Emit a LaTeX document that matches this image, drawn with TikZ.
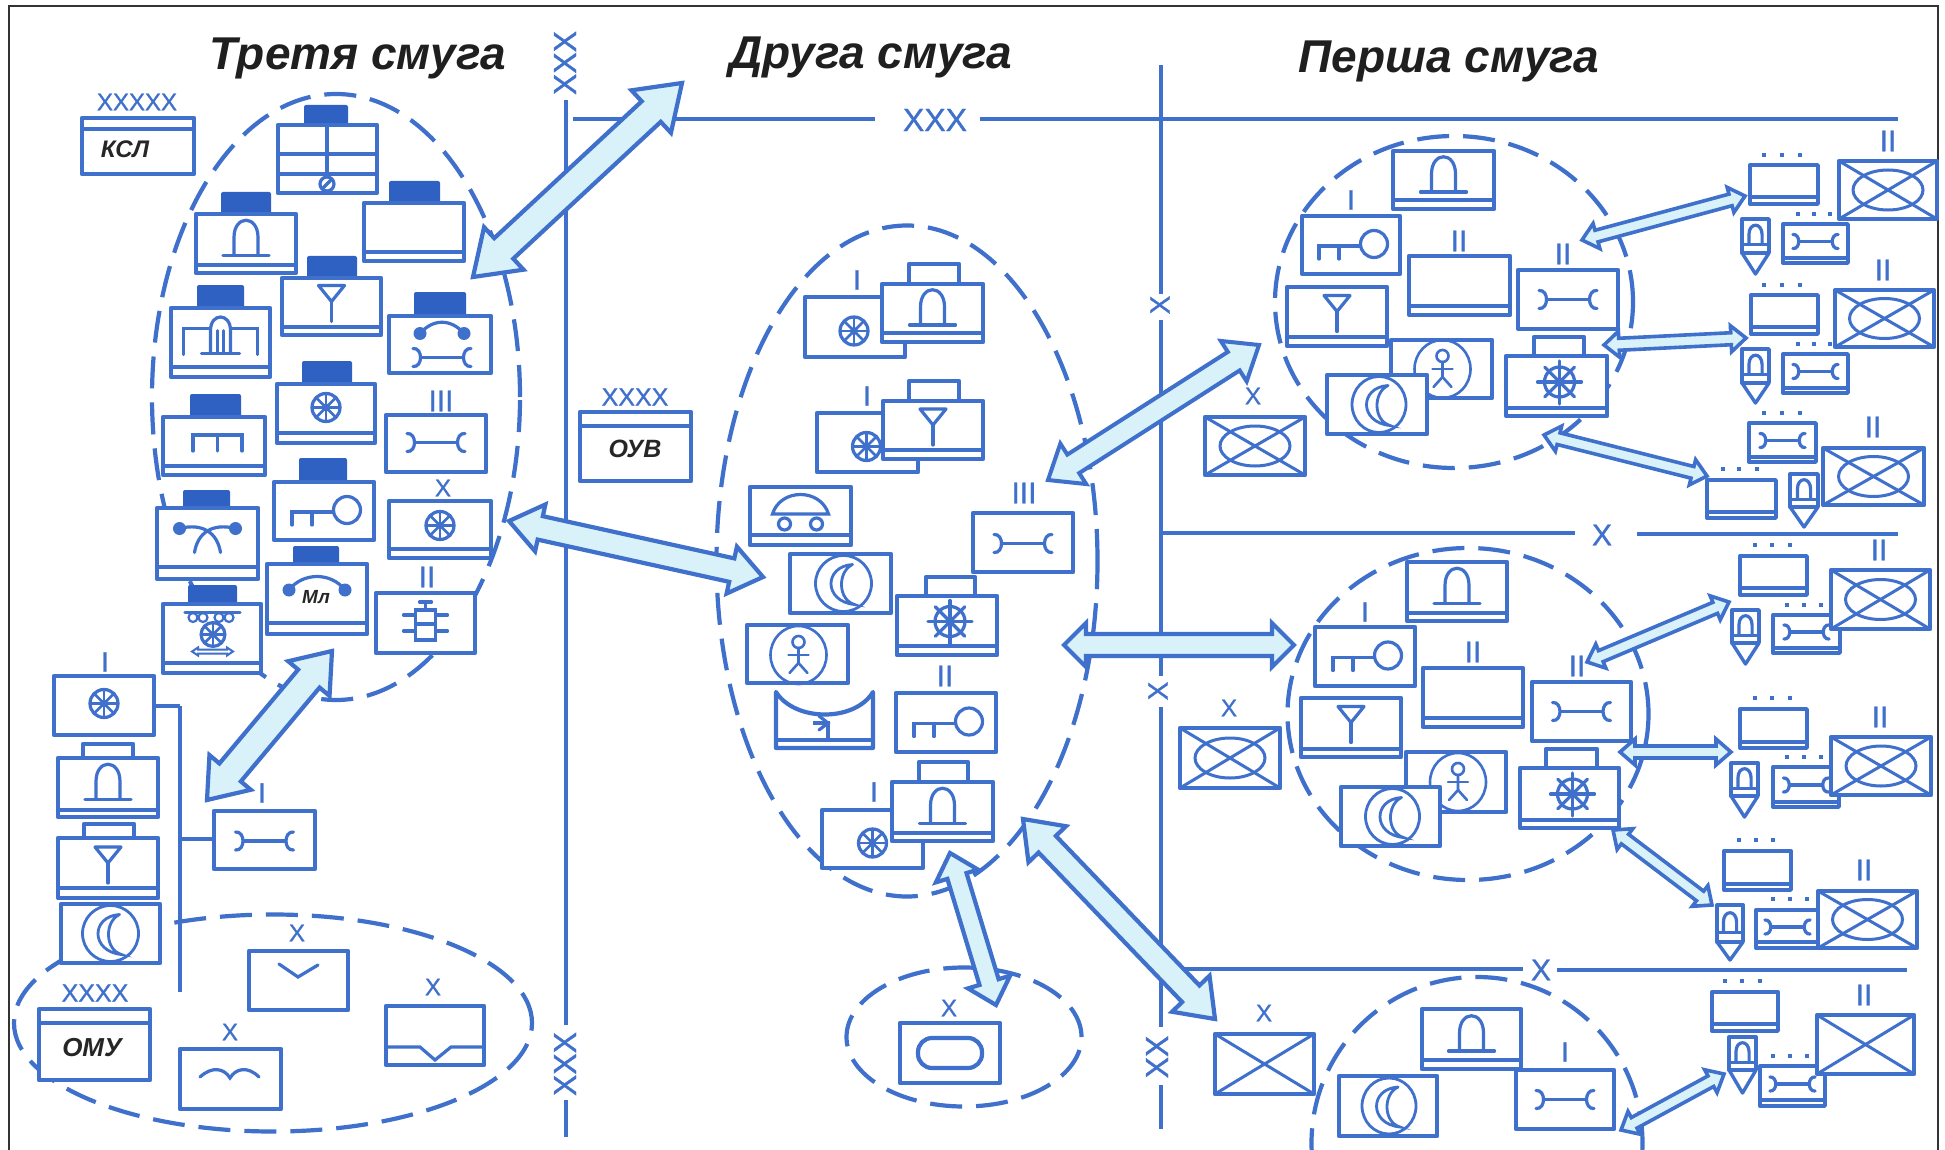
\documentclass[tikz,border=0pt]{standalone}
\usepackage{fontspec}
\setmainfont{Liberation Sans}
\newfontfamily\labf[FakeBold=0.9]{Liberation Sans}
\usetikzlibrary{calc,shapes.geometric}
\definecolor{ublue}{HTML}{3E70CC}
\definecolor{hqblue}{HTML}{2F61C2}
\definecolor{afill}{HTML}{D9F1F9}
\tikzset{
 ul/.style={draw=ublue,line width=4.2pt,line join=round},
 us/.style={draw=ublue,line width=3.4pt,line join=round},
 sw/.style={draw=ublue,line width=3.2pt,line cap=round},
 unitn/.style={ul,fill=white,inner sep=0pt,outer sep=0pt,rectangle},
 unitsm/.style={us,fill=white,inner sep=0pt,outer sep=0pt,rectangle},
 dashell/.style={ellipse,draw=ublue,line width=4.2pt,dash pattern=on 32pt off 14pt,inner sep=0pt,outer sep=0pt},
 arrowst/.style={draw=ublue,fill=afill,line join=miter},
 bus/.style={draw=ublue,line width=4.4pt},
 thinbus/.style={draw=ublue,line width=3.2pt}
}
\newcounter{labc}
\newcommand\lab[4]{\stepcounter{labc}\node[text=ublue,inner sep=0pt,font=\labf\fontsize{#3}{#3}\selectfont] (lab\arabic{labc}) at (#1,#2) {#4};}
\newcommand\labr[4]{\stepcounter{labc}\node[text=ublue,inner sep=0pt,rotate=90,font=\labf\fontsize{#3}{#3}\selectfont] (lab\arabic{labc}) at (#1,#2) {#4};}
\newcommand\ubox[5]{\node[unitn,minimum width={(#4-#2)*1pt},minimum height={(#5-#3)*1pt}] (#1) at ({(#2+#4)/2},{(#3+#5)/2}) {};}
\newcommand\usmall[5]{\node[unitsm,minimum width={(#4-#2)*1pt},minimum height={(#5-#3)*1pt}] (#1) at ({(#2+#4)/2},{(#3+#5)/2}) {};}
\newcommand\ubarr[2]{\draw[ul,line width=3.2pt] (#1.west |- 0,#2) -- (#1.east |- 0,#2);}
\newcommand\hqS[4]{\fill[hqblue,rounded corners=2pt] (#1,#2) rectangle (#3,#4);}
\newcommand\hqO[4]{\draw[ul,fill=white] (#1,#2) rectangle (#3,#4);}
\newcommand\Usym[5]{\begin{scope}[shift={($(#1.center)+(#2,#3)$)},scale=#4]#5\end{scope}}
\newcommand\tridots[4]{\foreach \q in {#1,#2,#3} \fill[ublue] (\q-2.4,#4-2.4) rectangle (\q+2.4,#4+2.4);}
% symbols
\newcommand\zzBell{\draw[sw] (-12,12) -- (-12,-6) .. controls (-12,-29) and (12,-29) .. (12,-6) -- (12,12);\draw[sw] (-23,12) -- (23,12);}
\newcommand\zzAnt{\draw[sw,line join=round] (-13,-21) -- (13,-21) -- (0,-5) -- cycle;\draw[sw] (0,-5) -- (0,15);}
\newcommand\zzWheel{\draw[sw] (0,0) circle[radius=14];\foreach \a in {0,45,...,315} \draw[sw,line width=2.6pt] (0,0) -- (\a:14);\fill[ublue] (0,0) circle[radius=4];}
\newcommand\zzWrench{\draw[sw] (-29,-9) .. controls (-19,-10) and (-19,10) .. (-29,9);\draw[sw] (29,-9) .. controls (19,-10) and (19,10) .. (29,9);\draw[sw] (-21,0) -- (21,0);}
\newcommand\zzKey{\draw[sw] (23,-1) circle[radius=13.5];\draw[sw] (9.5,1) -- (-32,1) -- (-32,14);\draw[sw] (-12,1) -- (-12,14);}
\newcommand\zzComb{\draw[sw] (-21,5) -- (-21,-11) -- (28,-11) -- (28,5);\draw[sw] (3.5,-11) -- (3.5,5);}
\newcommand\zzBuilding{\draw[sw] (-37,12) -- (-37,-14) -- (-11,-14);\draw[sw] (37,12) -- (37,-14) -- (11,-14);\draw[sw] (-10,11) -- (-10,-12) .. controls (-10,-30) and (10,-30) .. (10,-12) -- (10,11);\draw[sw,line width=2.6pt] (-3,-12) -- (-3,11);\draw[sw,line width=2.6pt] (3,-12) -- (3,11);\draw[sw] (-19,11) -- (19,11);}
\newcommand\zzCross{\fill[ublue] (-28,-15) circle[radius=6.5];\fill[ublue] (28,-15) circle[radius=6.5];\draw[sw] (-28,-15) .. controls (-4,-21) and (10,-10) .. (13,9);\draw[sw] (28,-15) .. controls (4,-21) and (-10,-10) .. (-13,9);}
\newcommand\zzCar{\draw[sw] (-28,-2) .. controls (-20,-28) and (20,-28) .. (28,-2) -- cycle;\draw[sw,fill=white] (-16,8) circle[radius=6];\draw[sw,fill=white] (16,8) circle[radius=6];}
\newcommand\zzMoon[1]{\draw[sw,line width=2.8pt] (0,0) ellipse[x radius=#1,y radius=28];\draw[sw,line width=2.8pt] (9,-19) .. controls (-20,-17) and (-20,18) .. (11,21) .. controls (-6,16) and (-6,-12) .. (9,-19);}
\newcommand\zzMan{\draw[sw,line width=2.6pt] (0,0) ellipse[x radius=28,y radius=29];\draw[sw,line width=2.6pt] (0,-13) circle[radius=6];\draw[sw,line width=2.6pt] (0,-7) -- (0,8) -- (-9,18);\draw[sw,line width=2.6pt] (0,8) -- (9,18);\draw[sw,line width=2.6pt] (-10,0) -- (10,0);}
\newcommand\zzHelm{\draw[sw] (0,0) circle[radius=15];\foreach \a in {0,180,90} \draw[sw] (0,0) -- (\a:22);\foreach \a in {-90} \draw[sw] (0,0) -- (\a:21);\foreach \a in {45,135,225,315} \draw[sw] (0,0) -- (\a:21);\fill[ublue] (0,0) circle[radius=4];}
\newcommand\zzOval{\draw[sw,line width=3pt] (0,0) ellipse[x radius=35,y radius=20];}
\newcommand\crossb[1]{\draw[ul,line width=3pt] (#1.north west) -- (#1.south east);\draw[ul,line width=3pt] (#1.north east) -- (#1.south west);}
\newcommand\ovalx[1]{\crossb{#1}\Usym{#1}{0}{0}{1}{\zzOval}}
\newcommand\pencil[6]{\draw[us,fill=white] (#2,#5) -- ({(#2+#4)/2},#6) -- (#4,#5);\usmall{#1}{#2}{#3}{#4}{#5}\Usym{#1}{0}{2}{.55}{\zzBell}}
\newcommand\swr[6]{\usmall{#1}{#2}{#3}{#4}{#5}\ubarr{#1}{#6}\Usym{#1}{0}{-2}{.78}{\zzWrench}}
\newcommand\dblarrow[6]{\draw[arrowst,line width=#6] (#1) -- ($(#1)!#5!(#2)!#4!90:(#2)$) -- ($(#1)!#5!(#2)!#3!90:(#2)$) -- ($(#2)!#5!(#1)!#3!-90:(#1)$) -- ($(#2)!#5!(#1)!#4!-90:(#1)$) -- (#2) -- ($(#2)!#5!(#1)!#4!90:(#1)$) -- ($(#2)!#5!(#1)!#3!90:(#1)$) -- ($(#1)!#5!(#2)!#3!-90:(#2)$) -- ($(#1)!#5!(#2)!#4!-90:(#2)$) -- cycle;}
\begin{document}
\begin{tikzpicture}[x=1pt,y=-1pt]
\useasboundingbox (0,0) rectangle (1945,1150);
\fill[white] (0,0) rectangle (1945,1150);
% frame
\draw[draw=black!80,line width=2.4pt] (9,1150) -- (9,6) -- (1938,6) -- (1938,1150);
% titles
\node[inner sep=0pt,font=\fontsize{46}{46}\selectfont\bfseries\itshape,text=black!88] (t3) at (358,58) {Третя смуга};
\node[inner sep=0pt,font=\fontsize{46}{46}\selectfont\bfseries\itshape,text=black!88] (t2) at (871,57) {Друга смуга};
\node[inner sep=0pt,font=\fontsize{46}{46}\selectfont\bfseries\itshape,text=black!88] (t1) at (1449,61) {Перша смуга};
% main lines
\draw[bus] (566,100) -- (566,1025);
\draw[bus] (566,1100) -- (566,1137);
\labr{565}{63}{32}{XXX}
\labr{565}{1064}{32}{XXX}
\draw[bus] (573,119) -- (875,119);
\lab{935}{120}{32}{XXX}
\draw[bus] (980,119) -- (1898,119);
\draw[bus] (1161,65) -- (1161,294);
\labr{1160}{305}{28}{X}
\draw[bus] (1161,320) -- (1161,676);
\labr{1158}{691}{28}{X}
\draw[bus] (1161,707) -- (1161,1027);
\labr{1157}{1057}{32}{XX}
\draw[bus] (1161,1085) -- (1161,1129);
\draw[bus] (1160,533) -- (1575,533);
\lab{1602}{535}{30}{X}
\draw[bus] (1637,534) -- (1898,534);
\draw[bus] (1160,969) -- (1523,969);
\lab{1541}{970}{30}{X}
\draw[bus] (1557,970) -- (1907,970);
% dashed groups
\node[dashell,minimum width=368pt,minimum height=606pt] (e3) at (336,397) {};
\node[dashell,minimum width=518pt,minimum height=217pt] (eomu) at (273,1023) {};
\node[dashell,minimum width=381pt,minimum height=671pt] (e2) at (907,561) {};
\node[dashell,minimum width=235pt,minimum height=139pt] (e2b) at (964,1037) {};
\node[dashell,minimum width=358pt,minimum height=332pt] (g1) at (1454,302) {};
\node[dashell,minimum width=361pt,minimum height=332pt] (g2) at (1468,714) {};
\node[dashell,minimum width=331pt,minimum height=332pt] (g3) at (1477,1143) {};
% ---- third band
\lab{137}{102}{24}{XXXXX}
\ubox{ksl}{82}{118}{194}{174}\draw[ul,line width=3.2pt] (ksl.west |- 0,129) -- (ksl.east |- 0,129);
\node[inner sep=0pt,font=\fontsize{24}{24}\selectfont\bfseries\itshape,text=black!85] (ksltxt) at (125,149) {КСЛ};
\hqS{304}{105}{348}{125}
\ubox{a1}{278}{125}{377}{193}
\draw[sw,line cap=butt] (a1.west |- 0,154) -- (a1.east |- 0,154);
\draw[sw,line cap=butt] (a1.west |- 0,174) -- (a1.east |- 0,174);
\draw[sw,line cap=butt] (327,125) -- (327,184);
\draw[sw,fill=white] (327,184) circle[radius=7];\draw[sw] (323,188) -- (331,180);
\hqS{221}{192}{271}{214}
\ubox{a2}{196}{214}{296}{273}\ubarr{a2}{265}\Usym{a2}{0}{0}{1}{\zzBell}
\hqS{389}{181}{440}{203}
\ubox{a3}{364}{203}{464}{261}\ubarr{a3}{252}
\hqS{307}{256}{357}{278}
\ubox{a4}{282}{278}{381}{335}\ubarr{a4}{327}\Usym{a4}{0}{0}{1}{\zzAnt}
\hqS{197}{285}{244}{308}
\ubox{a5}{171}{308}{270}{377}\ubarr{a5}{367}\Usym{a5}{0}{0}{1}{\zzBuilding}
\hqS{414}{292}{466}{316}
\ubox{a6}{389}{316}{491}{373}
\Usym{a6}{1}{0}{1}{\fill[ublue] (-21,-11) circle[radius=6.5];\fill[ublue] (23,-11) circle[radius=6.5];\draw[sw] (-21,-11) .. controls (-8,-26) and (10,-26) .. (23,-11);}
\Usym{a6}{2}{13}{1}{\zzWrench}
\hqS{302}{361}{352}{384}
\ubox{a7}{277}{384}{375}{443}\ubarr{a7}{433}\Usym{a7}{0}{-6}{1}{\zzWheel}
\hqS{190}{394}{241}{417}
\ubox{a8}{163}{417}{265}{475}\ubarr{a8}{466}\Usym{a8}{0}{0}{1}{\zzComb}
\lab{441}{401}{30}{III}
\ubox{a9}{386}{415}{486}{472}\Usym{a9}{0}{-1}{1}{\zzWrench}
\lab{443}{488}{24}{X}
\ubox{a10}{389}{501}{491}{558}\ubarr{a10}{549}\Usym{a10}{0}{-4}{1}{\zzWheel}
\hqS{299}{458}{347}{482}
\ubox{a11}{274}{482}{374}{540}\Usym{a11}{0}{0}{1}{\zzKey}
\hqS{183}{490}{230}{508}
\ubox{a12}{157}{508}{258}{579}\ubarr{a12}{567}\Usym{a12}{0}{0}{1}{\zzCross}
\hqS{293}{546}{339}{564}
\ubox{a13}{267}{564}{367}{634}\ubarr{a13}{623}
\Usym{a13}{0}{0}{1}{\fill[ublue] (-28,-9) circle[radius=6.5];\fill[ublue] (28,-9) circle[radius=6.5];\draw[sw] (-28,-9) .. controls (-14,-27) and (14,-27) .. (28,-9);}
\node[inner sep=0pt,font=\fontsize{19}{19}\selectfont\bfseries\itshape,text=black!85] (mltxt) at (316,597) {Мл};
\lab{427}{577}{30}{II}
\ubox{a14}{376}{593}{475}{653}
\Usym{a14}{0}{0}{1}{\draw[sw] (-22,-8) -- (22,-8);\draw[sw] (-22,8) -- (22,8);\draw[sw,fill=white] (-10,-13) rectangle (10,17);\draw[sw] (-10,1) -- (10,1);\draw[sw] (0,-13) -- (0,-21);\draw[sw] (-6,-21) -- (6,-21);}
\hqS{188}{585}{237}{604}
\ubox{a15}{163}{604}{261}{673}\ubarr{a15}{663}
\Usym{a15}{0}{0}{1}{\draw[sw] (-27,-26) -- (28,-26);\foreach \q in {-19,-9,7,17} \draw[sw,line width=2.2pt] (\q,-21) circle[radius=4.5];\begin{scope}[shift={(1,-4)},scale=.85]\zzWheel\end{scope}\draw[sw,line width=2pt] (-20,13) -- (-14,9) -- (-14,11) -- (15,11) -- (15,9) -- (21,13) -- (15,17) -- (15,15) -- (-14,15) -- (-14,17) -- cycle;}
% ---- lower left
\lab{105}{662}{28}{I}
\draw[thinbus] (154,706) -- (180,706);
\draw[thinbus] (180,706) -- (180,992);
\draw[thinbus] (180,839) -- (214,839);
\ubox{b1}{54}{676}{154}{735}\Usym{b1}{0}{-2}{1}{\zzWheel}
\hqO{83}{744}{133}{758}
\ubox{b2}{58}{758}{158}{817}\ubarr{b2}{810}\Usym{b2}{0}{0}{1}{\zzBell}
\hqO{84}{824}{134}{838}
\ubox{b3}{58}{838}{158}{898}\ubarr{b3}{888}\Usym{b3}{0}{0}{1}{\zzAnt}
\ubox{b4}{61}{904}{160}{963}\Usym{b4}{0}{0}{1}{\zzMoon{28}}
\lab{262}{793}{28}{I}
\ubox{b5}{214}{811}{315}{869}\Usym{b5}{0}{1}{1}{\zzWrench}
\lab{95}{993}{25}{XXXX}
\ubox{omu}{39}{1009}{150}{1080}\draw[ul,line width=3.2pt] (omu.west |- 0,1023) -- (omu.east |- 0,1023);
\node[inner sep=0pt,font=\fontsize{26}{26}\selectfont\bfseries\itshape,text=black!85] (omutxt) at (92,1048) {ОМУ};
\lab{297}{933}{24}{X}
\ubox{b6}{249}{951}{348}{1010}
\draw[sw] (279,964) -- (298,977) -- (318,965);
\lab{433}{987}{24}{X}
\ubox{b7}{386}{1006}{484}{1065}
\draw[sw,line cap=butt] (388,1047) -- (420,1047) -- (435,1060) -- (451,1047) -- (482,1047);
\lab{230}{1032}{24}{X}
\ubox{b8}{180}{1049}{281}{1109}
\draw[sw] (200,1077) .. controls (212,1066) and (224,1068) .. (230,1078) .. controls (236,1068) and (248,1066) .. (259,1077);
% ---- second band
\lab{635}{397}{25}{XXXX}
\ubox{ouv}{580}{412}{691}{481}\draw[ul,line width=3.2pt] (ouv.west |- 0,426) -- (ouv.east |- 0,426);
\node[inner sep=0pt,font=\fontsize{25}{25}\selectfont\bfseries\itshape,text=black!85] (ouvtxt) at (635,449) {ОУВ};
\lab{857}{280}{28}{I}
\ubox{c1}{805}{297}{905}{357}\Usym{c1}{-1}{4}{1}{\zzWheel}
\hqO{909}{264}{959}{284}
\ubox{c2}{882}{284}{983}{342}\ubarr{c2}{333}\Usym{c2}{0}{0}{1}{\zzBell}
\lab{867}{396}{28}{I}
\ubox{c3}{817}{413}{918}{472}\Usym{c3}{-1}{4}{1}{\zzWheel}
\hqO{909}{381}{959}{401}
\ubox{c4}{883}{401}{983}{459}\ubarr{c4}{450}\Usym{c4}{0}{0}{1}{\zzAnt}
\ubox{c5}{750}{487}{851}{545}\ubarr{c5}{535}\Usym{c5}{0}{0}{1}{\zzCar}
\ubox{c6}{790}{554}{891}{613}\Usym{c6}{3}{0}{1}{\zzMoon{28}}
\ubox{c7}{747}{625}{848}{683}\Usym{c7}{1}{1}{1}{\zzMan}
\lab{1024}{493}{30}{III}
\ubox{c8}{973}{513}{1073}{572}\Usym{c8}{0}{1}{1}{\zzWrench}
\hqO{926}{577}{975}{596}
\ubox{c9}{897}{596}{997}{655}\ubarr{c9}{646}\Usym{c9}{3}{-4}{1}{\zzHelm}
\lab{945}{676}{30}{II}
\ubox{c10}{896}{693}{996}{752}\Usym{c10}{0}{0}{1}{\zzKey}
\draw[ul,fill=white] (776,692) .. controls (795,722) and (855,722) .. (873,692) -- (873,748) -- (776,748) -- cycle;
\draw[ul,line width=3.2pt] (776,740) -- (873,740);
\draw[sw,line cap=butt] (828,739) -- (828,723) -- (813,723);\draw[sw] (819,716) -- (828,723) -- (819,730);
\lab{874}{792}{28}{I}
\ubox{c12}{822}{810}{923}{868}\Usym{c12}{0}{4}{1}{\zzWheel}
\hqO{919}{762}{968}{782}
\ubox{c13}{892}{782}{993}{841}\ubarr{c13}{833}\Usym{c13}{0}{0}{1}{\zzBell}
\lab{949}{1008}{24}{X}
\ubox{c15}{900}{1023}{1000}{1083}
\draw[ul,rounded corners=14pt] (918,1038) rectangle (982,1068);
% ---- first band, group 1
\ubox{u1}{1393}{151}{1494}{209}\ubarr{u1}{200}\Usym{u1}{0}{0}{1}{\zzBell}
\lab{1351}{200}{28}{I}
\ubox{u2}{1302}{216}{1400}{274}\Usym{u2}{0}{0}{1}{\zzKey}
\lab{1459}{241}{30}{II}
\ubox{u3}{1409}{256}{1510}{315}\ubarr{u3}{306}
\lab{1563}{254}{30}{II}
\ubox{u4}{1518}{270}{1618}{329}\Usym{u4}{0}{0}{1}{\zzWrench}
\ubox{u5}{1287}{287}{1387}{346}\ubarr{u5}{337}\Usym{u5}{0}{0}{1}{\zzAnt}
\ubox{u6}{1391}{340}{1492}{398}\Usym{u6}{1}{0}{1}{\zzMan}
\ubox{u7}{1327}{375}{1427}{434}\Usym{u7}{2}{0}{1}{\zzMoon{27}}
\hqO{1534}{337}{1584}{356}
\ubox{u8}{1506}{356}{1607}{416}\ubarr{u8}{408}\Usym{u8}{3}{-4}{1}{\zzHelm}
\lab{1253}{396}{24}{X}
\ubox{u9}{1205}{417}{1305}{475}\ovalx{u9}
\tridots{1764}{1782}{1800}{155}
\usmall{r1}{1750}{165}{1818}{204}\ubarr{r1}{197}
\lab{1888}{141}{30}{II}
\tridots{1798}{1814}{1830}{214}
\swr{r4}{1783}{224}{1848}{263}{258}
\ubox{r2}{1839}{161}{1937}{219}\ovalx{r2}
\pencil{r3}{1742}{219}{1769}{253}{274}
\tridots{1764}{1782}{1800}{285}
\usmall{r5}{1751}{295}{1818}{334}\ubarr{r5}{327}
\lab{1883}{270}{30}{II}
\tridots{1798}{1814}{1830}{344}
\swr{r8}{1783}{354}{1848}{393}{388}
\ubox{r6}{1835}{290}{1934}{347}\ovalx{r6}
\pencil{r7}{1742}{349}{1769}{383}{403}
\tridots{1764}{1782}{1800}{413}
\swr{r9}{1749}{423}{1816}{462}{457}
\tridots{1723}{1739}{1757}{469}
\usmall{r10}{1707}{480}{1776}{518}\ubarr{r10}{512}
\pencil{r11}{1790}{474}{1818}{507}{527}
\lab{1873}{427}{30}{II}
\ubox{r12}{1823}{448}{1924}{505}\ovalx{r12}
% group 2
\ubox{v1}{1407}{562}{1507}{621}\ubarr{v1}{613}\Usym{v1}{0}{0}{1}{\zzBell}
\lab{1365}{612}{28}{I}
\ubox{v2}{1315}{627}{1415}{686}\Usym{v2}{0}{0}{1}{\zzKey}
\lab{1473}{652}{30}{II}
\ubox{v3}{1423}{668}{1523}{727}\ubarr{v3}{718}
\lab{1577}{666}{30}{II}
\ubox{v4}{1532}{682}{1631}{741}\Usym{v4}{0}{0}{1}{\zzWrench}
\ubox{v5}{1301}{698}{1401}{757}\ubarr{v5}{749}\Usym{v5}{0}{0}{1}{\zzAnt}
\ubox{v6}{1406}{752}{1506}{812}\Usym{v6}{2}{0}{1}{\zzMan}
\ubox{v7}{1341}{787}{1440}{846}\Usym{v7}{2}{0}{1}{\zzMoon{27}}
\hqO{1546}{749}{1597}{768}
\ubox{v8}{1520}{768}{1619}{828}\ubarr{v8}{820}\Usym{v8}{3}{-4}{1}{\zzHelm}
\lab{1229}{708}{24}{X}
\ubox{v9}{1180}{728}{1280}{788}\ovalx{v9}
\tridots{1755}{1772}{1790}{545}
\usmall{w1}{1740}{556}{1807}{595}\ubarr{w1}{588}
\lab{1879}{550}{30}{II}
\tridots{1787}{1804}{1821}{605}
\swr{w4}{1773}{615}{1840}{653}{648}
\ubox{w2}{1831}{570}{1930}{629}\ovalx{w2}
\pencil{w3}{1732}{610}{1759}{643}{664}
\tridots{1755}{1772}{1790}{698}
\usmall{w5}{1740}{709}{1807}{748}\ubarr{w5}{742}
\lab{1880}{717}{30}{II}
\tridots{1787}{1804}{1821}{757}
\swr{w8}{1773}{767}{1839}{807}{802}
\ubox{w6}{1831}{737}{1931}{795}\ovalx{w6}
\pencil{w7}{1731}{763}{1758}{796}{817}
\tridots{1739}{1756}{1773}{840}
\usmall{w9}{1724}{851}{1791}{890}\ubarr{w9}{884}
\lab{1864}{870}{30}{II}
\tridots{1773}{1790}{1807}{899}
\swr{w12}{1756}{910}{1819}{948}{942}
\ubox{w10}{1818}{891}{1917}{948}\ovalx{w10}
\pencil{w11}{1717}{905}{1743}{942}{960}
% group 3
\ubox{x1}{1422}{1009}{1521}{1069}\ubarr{x1}{1060}\Usym{x1}{0}{0}{1}{\zzBell}
\ubox{x2}{1339}{1076}{1437}{1136}\Usym{x2}{1}{0}{1}{\zzMoon{27}}
\lab{1565}{1052}{28}{I}
\ubox{x3}{1516}{1070}{1614}{1129}\Usym{x3}{0}{0}{1}{\zzWrench}
\lab{1264}{1013}{24}{X}
\ubox{x4}{1215}{1034}{1314}{1094}\crossb{x4}
\tridots{1725}{1742}{1760}{981}
\usmall{y1}{1712}{992}{1778}{1031}\ubarr{y1}{1024}
\lab{1864}{995}{30}{II}
\tridots{1773}{1790}{1807}{1056}
\swr{y4}{1760}{1066}{1825}{1106}{1100}
\ubox{y2}{1817}{1015}{1914}{1074}\crossb{y2}
\pencil{y3}{1729}{1037}{1756}{1070}{1093}
% ---- arrows
\coordinate (p1a) at (473,277);\coordinate (p1b) at (682,83);
\dblarrow{p1a}{p1b}{14pt}{29pt}{42pt}{4.2pt}
\coordinate (p2a) at (509,521);\coordinate (p2b) at (763,577);
\dblarrow{p2a}{p2b}{12pt}{24pt}{32pt}{4.2pt}
\coordinate (p3a) at (332,651);\coordinate (p3b) at (207,800);
\dblarrow{p3a}{p3b}{14pt}{27pt}{36pt}{4.2pt}
\coordinate (p4a) at (1048,480);\coordinate (p4b) at (1259,345);
\dblarrow{p4a}{p4b}{11pt}{24pt}{30pt}{4pt}
\coordinate (p5a) at (1064,645);\coordinate (p5b) at (1294,645);
\dblarrow{p5a}{p5b}{11pt}{22pt}{22pt}{4.2pt}
\coordinate (p6a) at (1023,819);\coordinate (p6b) at (1215,1019);
\dblarrow{p6a}{p6b}{12pt}{26pt}{35pt}{4.2pt}
\coordinate (p7a) at (950,853);\coordinate (p7b) at (996,1005);
\dblarrow{p7a}{p7b}{10pt}{22pt}{24pt}{4.2pt}
\coordinate (q1a) at (1582,240);\coordinate (q1b) at (1745,196);
\dblarrow{q1a}{q1b}{6pt}{13pt}{15pt}{3.6pt}
\coordinate (q2a) at (1604,345);\coordinate (q2b) at (1746,338);
\dblarrow{q2a}{q2b}{6pt}{13pt}{15pt}{3.6pt}
\coordinate (q3a) at (1544,435);\coordinate (q3b) at (1707,476);
\dblarrow{q3a}{q3b}{6pt}{13pt}{15pt}{3.6pt}
\coordinate (q4a) at (1587,662);\coordinate (q4b) at (1729,602);
\dblarrow{q4a}{q4b}{6pt}{13pt}{15pt}{3.6pt}
\coordinate (q5a) at (1620,752);\coordinate (q5b) at (1731,752);
\dblarrow{q5a}{q5b}{6pt}{13pt}{15pt}{3.6pt}
\coordinate (q6a) at (1613,830);\coordinate (q6b) at (1712,905);
\dblarrow{q6a}{q6b}{6pt}{13pt}{15pt}{3.6pt}
\coordinate (q7a) at (1621,1130);\coordinate (q7b) at (1724,1074);
\dblarrow{q7a}{q7b}{6pt}{13pt}{15pt}{3.6pt}
\end{tikzpicture}
\end{document}
